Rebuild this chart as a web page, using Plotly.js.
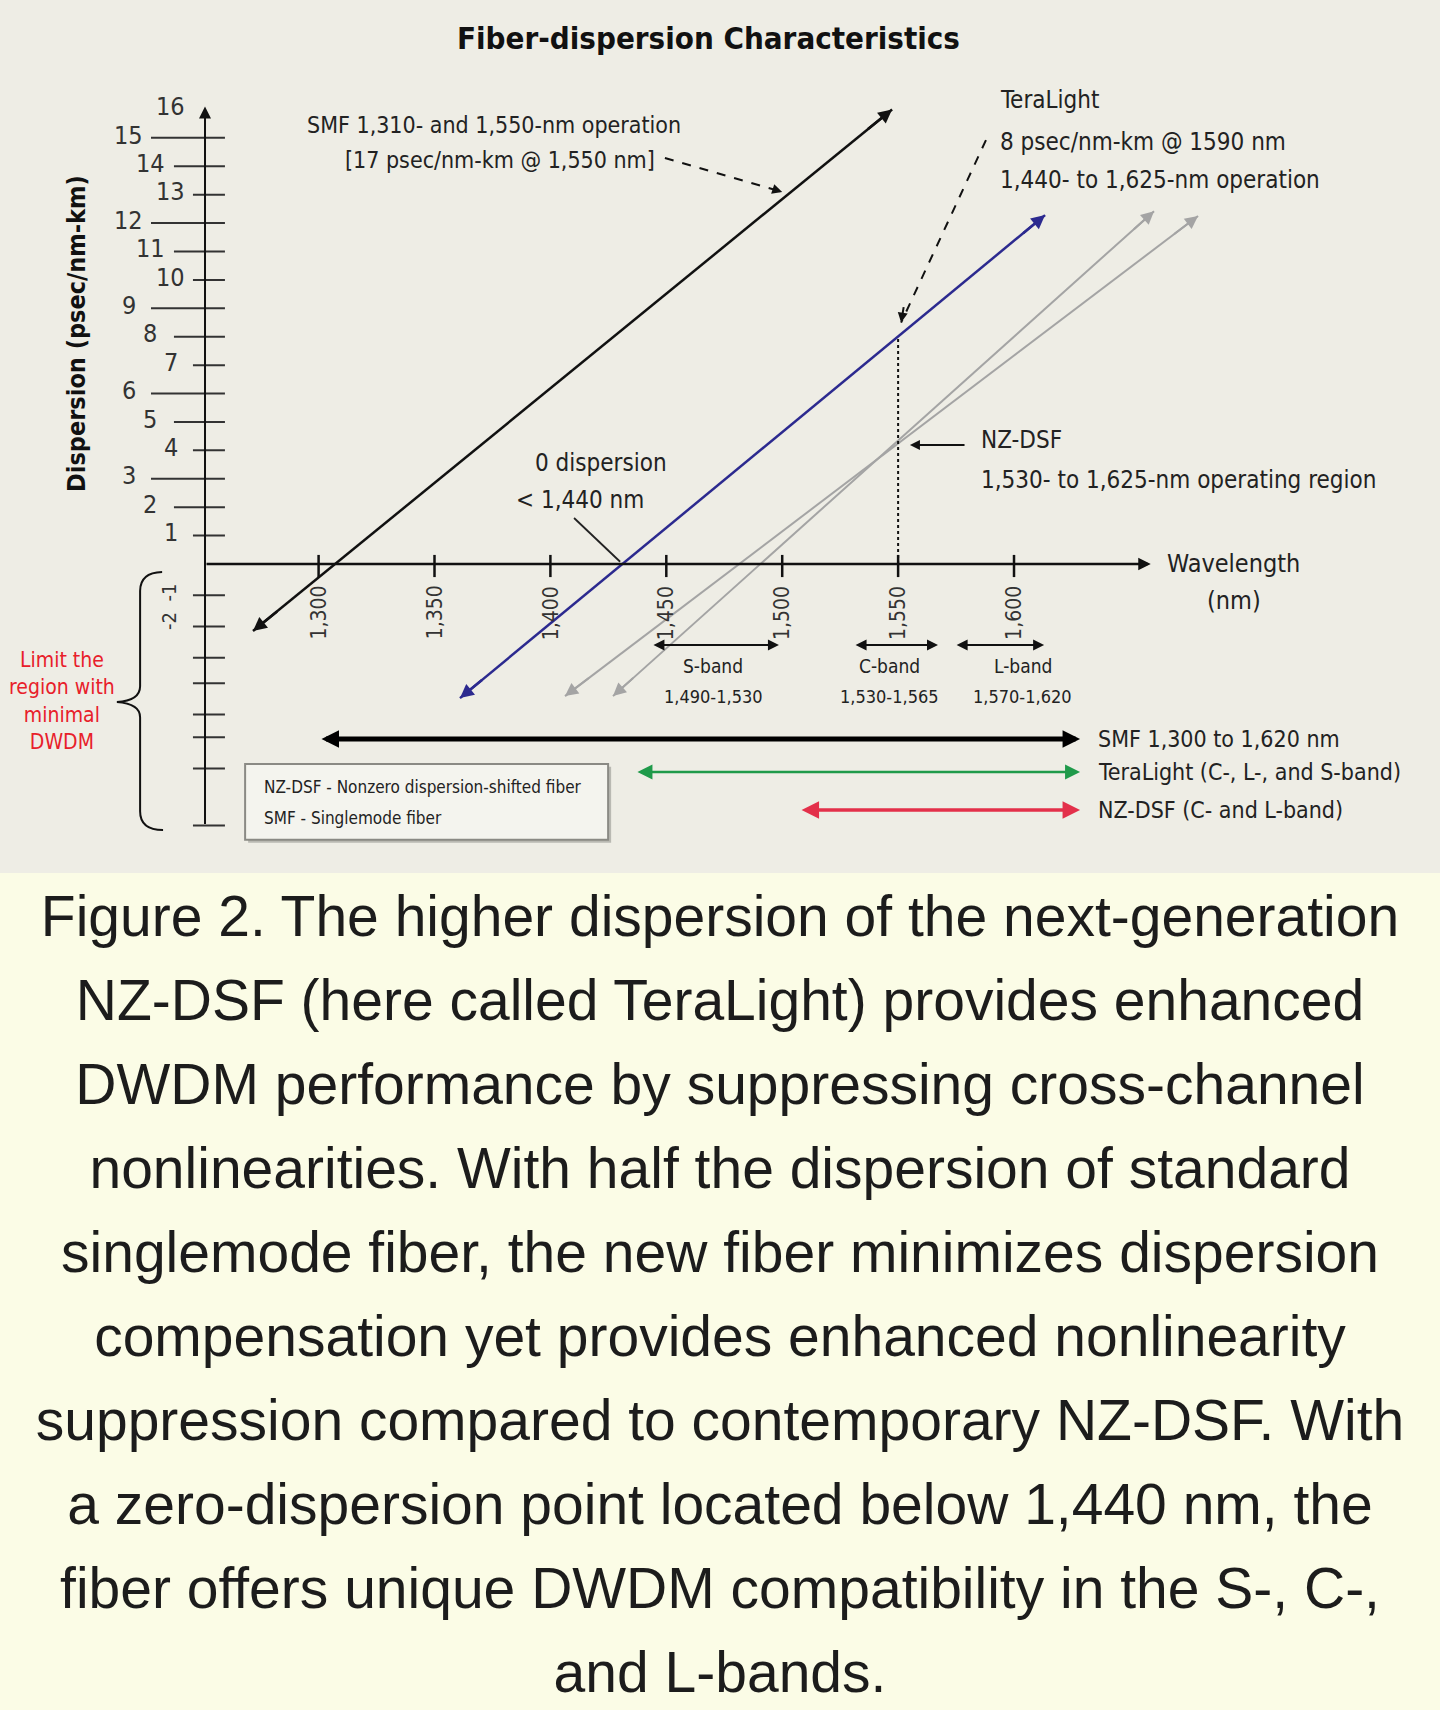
<!DOCTYPE html>
<html>
<head>
<meta charset="utf-8">
<script src="https://cdn.plot.ly/plotly-3.0.1.min.js"></script>
<style>
body { margin: 0; background: #fbfce6; }
#chart { width: 1440px; height: 873px; }
#caption {
  width: 1440px; height: 837px; box-sizing: border-box; padding-top: 1px;
  background: #fbfce6; color: #1c1c1c; text-align: center; white-space: nowrap;
  font-family: "Liberation Sans", Arial, sans-serif; font-size: 57px; line-height: 84px;
}
</style>
</head>
<body>
<div id="chart"></div>
<div id="caption">
Figure 2. The higher dispersion of the next-generation<br>
NZ-DSF (here called TeraLight) provides enhanced<br>
DWDM performance by suppressing cross-channel<br>
nonlinearities. With half the dispersion of standard<br>
singlemode fiber, the new fiber minimizes dispersion<br>
compensation yet provides enhanced nonlinearity<br>
suppression compared to contemporary NZ-DSF. With<br>
a zero-dispersion point located below 1,440 nm, the<br>
fiber offers unique DWDM compatibility in the S-, C-,<br>
and L-bands.
</div>
<script>
// 分散の直線 (両端の波長 nm / 分散 psec/nm-km)
const smfWave = [1271.7, 1547.4];
const smfDisp = [-2.36, 16.0];
const teraWave = [1361.0, 1613.4];
const teraDisp = [-4.72, 12.28];
const nzA_Wave = [1406.3, 1679.4];
const nzA_Disp = [-4.65, 12.25];
const nzB_Wave = [1427.0, 1660.4];
const nzB_Disp = [-4.65, 12.42];

// 軸の目盛り
const xTickVals = [1300, 1350, 1400, 1450, 1500, 1550, 1600];
const xTickText = ["1,300", "1,350", "1,400", "1,450", "1,500", "1,550", "1,600"];
const yTickVals = [1, 2, 3, 4, 5, 6, 7, 8, 9, 10, 11, 12, 13, 14, 15];
const yTickNeg = [-1.1, -2.2, -3.3, -4.2, -5.3, -6.1, -7.2, -9.2];
const yLabelVals = [1, 2, 3, 4, 5, 6, 7, 8, 9, 10, 11, 12, 13, 14, 15, 16];
const yNegLabels = ["-1", "-2"];
const yNegLabelVals = [-1.0, -2.0];

// 帯域 (S / C / L)
const bandNames = ["S-band", "C-band", "L-band"];
const bandRange = ["1,490-1,530", "1,530-1,565", "1,570-1,620"];
const bandStart = [1443.8, 1531.0, 1574.6];
const bandEnd = [1498.6, 1567.2, 1613.0];

// 使用範囲の矢印
const useNames = ["SMF 1,300 to 1,620 nm", "TeraLight (C-, L-, and S-band)", "NZ-DSF (C- and L-band)"];
const useStart = [1300.6, 1436.9, 1507.7];
const useEnd = [1628.5, 1628.5, 1628.5];
const useLevel = [-6.16, -7.32, -8.66];

const axisStart = 1251;   // 縦軸の位置 (nm)
const axisEnd = 1659;     // 横軸の矢印 (nm)
const yAxisTop = 16.1;
const yAxisBottom = -9.2;

const NARROW = "Liberation Sans Narrow, DejaVu Sans Condensed, Arial Narrow, sans-serif";
const INK = "#222";

function interp(xs, ys, x) {
  return ys[0] + (ys[1] - ys[0]) * (x - xs[0]) / (xs[1] - xs[0]);
}

function label(x, y, text, size, opts) {
  return Object.assign({
    x: x, y: y, xref: "x", yref: "y", text: text, showarrow: false,
    font: {family: NARROW, size: size, color: INK}
  }, opts || {});
}

function arrow(x, y, ax, ay, color, width, opts) {
  return Object.assign({
    x: x, y: y, ax: ax, ay: ay, xref: "x", yref: "y", axref: "x", ayref: "y",
    text: "", showarrow: true, arrowhead: 2, arrowsize: 1, arrowwidth: width, arrowcolor: color
  }, opts || {});
}

// 直線の両端に矢じりを付ける
function heads(xs, ys, color, width, size) {
  const k = 0.04;
  return [
    arrow(xs[1], ys[1], xs[1] - k * (xs[1] - xs[0]), ys[1] - k * (ys[1] - ys[0]), color, width, {arrowsize: size}),
    arrow(xs[0], ys[0], xs[0] + k * (xs[1] - xs[0]), ys[0] + k * (ys[1] - ys[0]), color, width, {arrowsize: size})
  ];
}

let data = [];
let annotations = [];

// 縦軸の目盛り線
let tx = [], ty = [];
yTickVals.forEach(function (v) {
  const left = v % 3 === 0 ? 1227.7 : (v % 3 === 2 ? 1237.6 : 1245.8);
  tx.push(left, 1259.6, null);
  ty.push(v, v, null);
});
yTickNeg.forEach(function (v) {
  tx.push(1245.8, 1259.6, null);
  ty.push(v, v, null);
});
data.push({x: tx, y: ty, mode: "lines", line: {color: "#333", width: 2}, hoverinfo: "skip", showlegend: false});

// 横軸の目盛り線
let gx = [], gy = [];
xTickVals.forEach(function (v) {
  gx.push(v, v, null);
  gy.push(0.32, -0.46, null);
});
data.push({x: gx, y: gy, mode: "lines", line: {color: "#111", width: 2.5}, hoverinfo: "skip", showlegend: false});

// 軸線
annotations.push(arrow(axisStart, yAxisTop, axisStart, yAxisBottom, "#111", 2, {arrowsize: 1.2}));
annotations.push(arrow(axisEnd, 0, axisStart, 0, "#111", 2.5, {arrowsize: 1}));

// 分散の直線
data.push({x: nzA_Wave, y: nzA_Disp, mode: "lines", line: {color: "#a4a4a4", width: 2}, name: "NZ-DSF A", showlegend: false});
data.push({x: nzB_Wave, y: nzB_Disp, mode: "lines", line: {color: "#a4a4a4", width: 2}, name: "NZ-DSF B", showlegend: false});
data.push({x: teraWave, y: teraDisp, mode: "lines", line: {color: "#2c2a8f", width: 2.5}, name: "TeraLight", showlegend: false});
data.push({x: smfWave, y: smfDisp, mode: "lines", line: {color: "#111", width: 2.5}, name: "SMF", showlegend: false});
annotations = annotations.concat(heads(nzA_Wave, nzA_Disp, "#a4a4a4", 2, 1.3));
annotations = annotations.concat(heads(nzB_Wave, nzB_Disp, "#a4a4a4", 2, 1.3));
annotations = annotations.concat(heads(teraWave, teraDisp, "#2c2a8f", 2.5, 1.1));
annotations = annotations.concat(heads(smfWave, smfDisp, "#111", 2.5, 1.1));

// 1550 nm の点線
const tera1550 = interp(teraWave, teraDisp, 1550);
data.push({x: [1550, 1550], y: [0, tera1550], mode: "lines", line: {color: "#111", width: 2, dash: "dot"}, hoverinfo: "skip", showlegend: false});

// 注記の引き出し線
const smfTip = [1500, interp(smfWave, smfDisp, 1500) + 0.25];
data.push({x: [1449.4, smfTip[0]], y: [14.29, smfTip[1]], mode: "lines", line: {color: "#111", width: 2, dash: "dash"}, hoverinfo: "skip", showlegend: false});
annotations.push(arrow(smfTip[0], smfTip[1], smfTip[0] - 3, smfTip[1] + 0.08, "#111", 2, {arrowsize: 1}));

const teraTip = [1551.3, interp(teraWave, teraDisp, 1551.3) + 0.4];
data.push({x: [1587.9, teraTip[0]], y: [14.92, teraTip[1]], mode: "lines", line: {color: "#111", width: 2, dash: "dash"}, hoverinfo: "skip", showlegend: false});
annotations.push(arrow(teraTip[0], teraTip[1], teraTip[0] + 1.2, teraTip[1] + 0.6, "#111", 2, {arrowsize: 1}));

const zeroCross = teraWave[0] - teraDisp[0] * (teraWave[1] - teraWave[0]) / (teraDisp[1] - teraDisp[0]);
data.push({x: [1410.2, zeroCross - 1], y: [1.62, 0.08], mode: "lines", line: {color: "#222", width: 1.8}, hoverinfo: "skip", showlegend: false});

annotations.push(arrow(1555.1, 4.19, 1579.3, 4.19, "#111", 2, {arrowsize: 1}));

// 目盛りラベル
xTickVals.forEach(function (v, i) {
  annotations.push(label(v, -1.72, xTickText[i], 21, {textangle: -90, font: {family: NARROW, size: 21, color: "#333"}}));
});
yLabelVals.forEach(function (v) {
  const lx = v % 3 === 0 ? 1218.2 : (v % 3 === 2 ? 1227.3 : 1236.3);
  annotations.push(label(lx, v + 0.1, String(v), 25, {font: {family: NARROW, size: 25, color: "#333"}}));
});
yNegLabels.forEach(function (t, i) {
  annotations.push(label(1235.5, yNegLabelVals[i], t, 20, {textangle: -90, font: {family: NARROW, size: 20, color: "#333"}}));
});

// 帯域の矢印とラベル
const bandLabelShift = [-1, -3, 10];
bandNames.forEach(function (name, i) {
  annotations.push(arrow(bandEnd[i], -2.85, bandStart[i], -2.85, "#111", 2, {arrowside: "end+start", arrowsize: 1.1}));
  const mid = (bandStart[i] + bandEnd[i]) / 2 + bandLabelShift[i];
  annotations.push(label(mid, -3.58, name, 19));
  annotations.push(label(mid, -4.67, bandRange[i], 18));
});

// 使用範囲の矢印
const useColor = ["#000", "#1f9a4a", "#e3304a"];
const useWidth = [5, 2.5, 3.5];
const useSize = [0.7, 1.2, 1.0];
useNames.forEach(function (name, i) {
  annotations.push(arrow(useEnd[i], useLevel[i], useStart[i], useLevel[i], useColor[i], useWidth[i], {arrowside: "end+start", arrowsize: useSize[i]}));
  annotations.push(label(1635.4, useLevel[i], name, 23, {xanchor: "left"}));
});

// 説明テキスト
annotations.push(label(1375.7, 15.45, "SMF 1,310- and 1,550-nm operation", 23));
annotations.push(label(1378.3, 14.22, "[17 psec/nm-km @ 1,550 nm]", 23));
annotations.push(label(1593.1, 16.33, "TeraLight", 24, {xanchor: "left"}));
annotations.push(label(1593.1, 14.85, "8 psec/nm-km @ 1590 nm", 24, {xanchor: "left"}));
annotations.push(label(1593.1, 13.52, "1,440- to 1,625-nm operation", 24, {xanchor: "left"}));
annotations.push(label(1421.9, 3.56, "0 dispersion", 24));
annotations.push(label(1412.8, 2.25, "< 1,440 nm", 24));
annotations.push(label(1584.9, 4.36, "NZ-DSF", 24, {xanchor: "left"}));
annotations.push(label(1584.9, 2.96, "1,530- to 1,625-nm operating region", 24, {xanchor: "left"}));
annotations.push(label(1694.9, 0.03, "Wavelength", 25));
annotations.push(label(1694.9, -1.27, "(nm)", 25));
annotations.push(label(1468.4, 18.52, "<b>Fiber-dispersion Characteristics</b>", 31, {font: {family: NARROW, size: 31, color: "#111"}}));
annotations.push(label(1195.3, 8.13, "<b>Dispersion (psec/nm-km)</b>", 25, {textangle: -90, font: {family: NARROW, size: 25, color: "#111"}}));
annotations.push(label(1189.3, -4.82, "Limit the<br>region with<br>minimal<br>DWDM", 21, {font: {family: NARROW, size: 21, color: "#e8202a"}}));
annotations.push(label(1275.6, -7.85, "NZ-DSF - Nonzero dispersion-shifted fiber", 17, {xanchor: "left"}));
annotations.push(label(1275.6, -8.94, "SMF - Singlemode fiber", 17, {xanchor: "left"}));

// 凡例の枠と左の括弧
const shapes = [
  {type: "rect", xref: "x", yref: "y", x0: 1269.6, x1: 1426.2, y0: -7.14, y1: -9.81, fillcolor: "#b9b9b2", line: {width: 0}, layer: "below"},
  {type: "rect", xref: "x", yref: "y", x0: 1268.3, x1: 1424.9, y0: -7.04, y1: -9.71, fillcolor: "#f4f4ee", line: {color: "#8a8a84", width: 2}, layer: "below"},
  {type: "path", xref: "x", yref: "y", line: {color: "#111", width: 2},
   path: "M 1232.5,-0.28 Q 1223,-0.3 1223,-0.95 L 1223,-4.3 Q 1223,-4.8 1213,-4.86 Q 1223,-4.92 1223,-5.4 L 1223,-8.7 Q 1223,-9.36 1232.9,-9.36"}
];

const layout = {
  width: 1440,
  height: 873,
  margin: {l: 0, r: 0, t: 0, b: 0},
  paper_bgcolor: "#eeede5",
  plot_bgcolor: "#eeede5",
  showlegend: false,
  xaxis: {range: [1162.56, 1783.77], visible: false, fixedrange: true},
  yaxis: {range: [-10.876, 19.852], visible: false, fixedrange: true},
  annotations: annotations,
  shapes: shapes
};

Plotly.newPlot("chart", data, layout, {displayModeBar: false, staticPlot: true});
</script>
</body>
</html>
